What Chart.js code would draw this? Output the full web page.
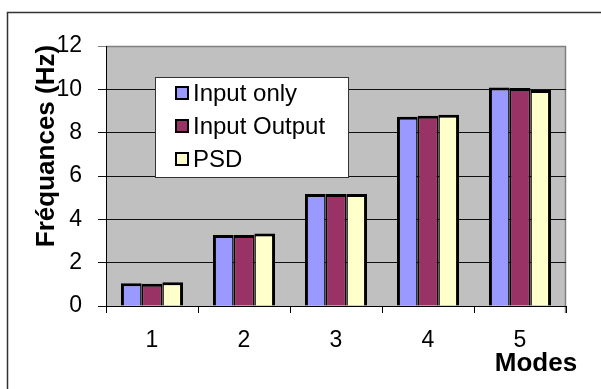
<!DOCTYPE html>
<html>
<head>
<meta charset="utf-8">
<script src="https://cdn.jsdelivr.net/npm/chart.js@4/dist/chart.umd.min.js"></script>
<style>
  html, body { margin: 0; padding: 0; background: #fff; }
  canvas { display: block; }
</style>
</head>
<body>
<canvas id="canvas" width="601" height="389"></canvas>
<script>
var modes = ['1', '2', '3', '4', '5'];
var inputOnly = [1.05, 3.28, 5.17, 8.74, 10.09];
var inputOutput = [1.03, 3.28, 5.17, 8.78, 10.06];
var psd = [1.1, 3.35, 5.17, 8.83, 9.97];
var seriesNames = ['Input only', 'Input Output', 'PSD'];
var seriesColors = ['#9999FF', '#993366', '#FFFFCC'];
var yTitle = 'Fréquances (Hz)';
var xTitle = 'Modes';

var FONT = '"Liberation Sans", Arial, sans-serif';

// plot background, frame and free-floating texts / legend
var decorations = {
    id: 'decorations',
    beforeDraw: function(chart) {
        var ctx = chart.ctx;
        var a = chart.chartArea;
        ctx.save();
        ctx.fillStyle = '#fff';
        ctx.fillRect(0, 0, chart.width, chart.height);
        // outer frame
        ctx.strokeStyle = '#333';
        ctx.lineWidth = 1.5;
        ctx.beginPath();
        ctx.moveTo(7.5, chart.height);
        ctx.lineTo(7.5, 12.5);
        ctx.lineTo(chart.width, 12.5);
        ctx.stroke();
        // plot area
        ctx.fillStyle = '#C0C0C0';
        ctx.fillRect(a.left, a.top, a.right - a.left, a.bottom - a.top);
        ctx.strokeStyle = '#808080';
        ctx.lineWidth = 1.5;
        ctx.beginPath();
        ctx.moveTo(a.left, a.top + 0.5);
        ctx.lineTo(a.right - 0.5, a.top + 0.5);
        ctx.lineTo(a.right - 0.5, a.bottom + 7);
        ctx.stroke();
        ctx.restore();
    },
    afterDatasetsDraw: function(chart) {
        var ctx = chart.ctx;
        ctx.save();
        // legend box
        ctx.fillStyle = '#fff';
        ctx.fillRect(155, 77, 193, 100);
        ctx.strokeStyle = '#333';
        ctx.lineWidth = 1;
        ctx.strokeRect(155.5, 77.5, 193, 100);
        var rows = [93, 126, 159];
        ctx.font = '24px ' + FONT;
        ctx.textBaseline = 'middle';
        ctx.textAlign = 'left';
        chart.data.datasets.forEach(function(ds, i) {
            ctx.fillStyle = ds.backgroundColor;
            ctx.fillRect(176, rows[i] - 6, 12, 12);
            ctx.strokeStyle = '#000';
            ctx.lineWidth = 2;
            ctx.strokeRect(176, rows[i] - 6, 12, 12);
            ctx.fillStyle = '#000';
            ctx.fillText(ds.label, 193, rows[i] + 1);
        });
        ctx.restore();
    },
    afterDraw: function(chart) {
        var ctx = chart.ctx;
        ctx.save();
        ctx.fillStyle = '#000';
        ctx.font = 'bold 26px ' + FONT;
        ctx.textAlign = 'center';
        ctx.textBaseline = 'middle';
        ctx.translate(47, 146);
        ctx.rotate(-Math.PI / 2);
        ctx.fillText(yTitle, 0, 0);
        ctx.restore();
        ctx.save();
        ctx.fillStyle = '#000';
        ctx.font = 'bold 26px ' + FONT;
        ctx.textAlign = 'center';
        ctx.textBaseline = 'middle';
        ctx.fillText(xTitle, 536, 364);
        ctx.restore();
    }
};

var config = {
    type: 'bar',
    data: {
        labels: modes,
        datasets: [{
            label: seriesNames[0],
            data: inputOnly,
            backgroundColor: seriesColors[0],
            borderColor: '#000',
            borderWidth: {top: 3, left: 3, right: 1.5, bottom: 0},
            borderSkipped: 'bottom'
        }, {
            label: seriesNames[1],
            data: inputOutput,
            backgroundColor: seriesColors[1],
            borderColor: '#000',
            borderWidth: {top: 3, left: 1.5, right: 1.5, bottom: 0},
            borderSkipped: 'bottom'
        }, {
            label: seriesNames[2],
            data: psd,
            backgroundColor: seriesColors[2],
            borderColor: '#000',
            borderWidth: {top: 3, left: 1.5, right: 3, bottom: 0},
            borderSkipped: 'bottom'
        }]
    },
    options: {
        responsive: false,
        animation: false,
        devicePixelRatio: 1,
        layout: {
            padding: {left: 7, top: 46, right: 35, bottom: 0}
        },
        datasets: {
            bar: {
                barPercentage: 1,
                categoryPercentage: 0.675
            }
        },
        plugins: {
            legend: {display: false},
            title: {display: false},
            tooltip: {enabled: false}
        },
        scales: {
            x: {
                afterFit: function(scale) { scale.height = 83; },
                grid: {
                    drawOnChartArea: false,
                    tickLength: 7,
                    color: function(c) { return c.index === modes.length ? '#808080' : '#000'; }
                },
                border: {display: true, color: '#000', width: 1},
                ticks: {
                    color: '#000',
                    padding: 14,
                    font: {family: FONT, size: 23}
                }
            },
            y: {
                min: 0,
                max: 12,
                afterFit: function(scale) { scale.width = 99; },
                grid: {
                    tickLength: 8,
                    color: function(c) { return c.tick && c.tick.value === 12 ? '#808080' : '#111'; }
                },
                border: {display: true, color: '#000', width: 1},
                ticks: {
                    stepSize: 2,
                    color: '#000',
                    padding: 16,
                    font: {family: FONT, size: 23}
                }
            }
        }
    },
    plugins: [decorations]
};

window.onload = function() {
    var ctx = document.getElementById('canvas').getContext('2d');
    window.myBar = new Chart(ctx, config);
};
</script>
</body>
</html>
